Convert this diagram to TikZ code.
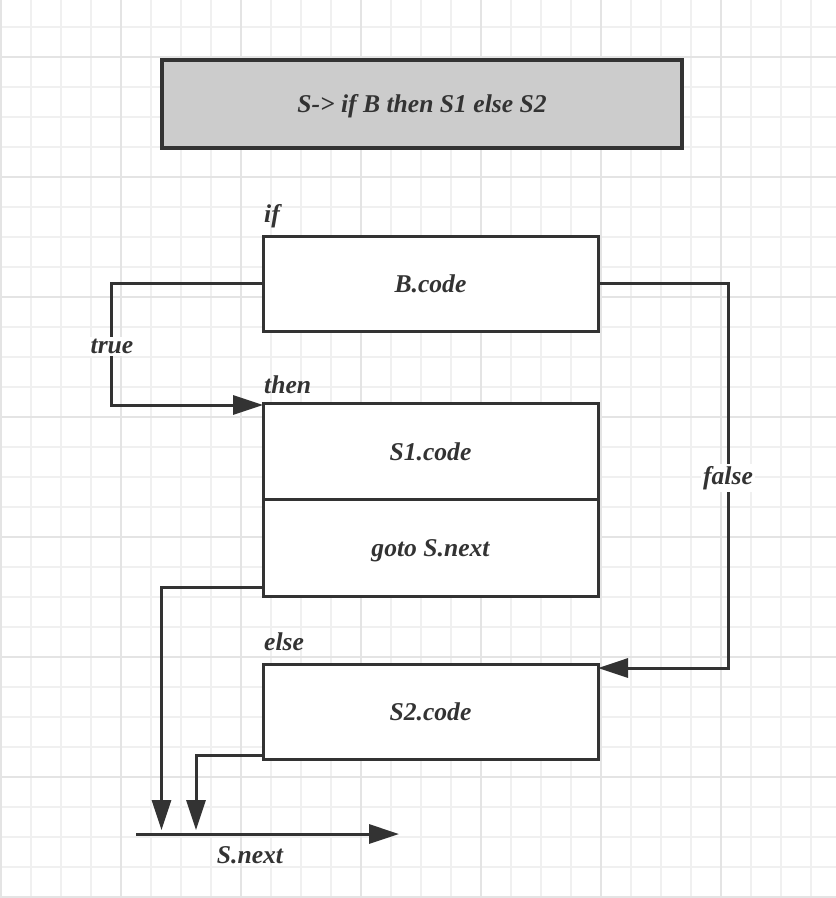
\documentclass[tikz,border=0pt]{standalone}
\usepackage{fontspec}
\setmainfont{Liberation Serif}
\usetikzlibrary{arrows.meta,calc}
\definecolor{ink}{HTML}{333333}
\definecolor{titlefill}{HTML}{CCCCCC}
\definecolor{gridminor}{HTML}{F0F0F0}
\definecolor{gridmajor}{HTML}{E4E4E4}
\newcommand\diagfont{\fontsize{25.6}{30}\selectfont\bfseries\itshape}
\begin{document}
\begin{tikzpicture}[x=1pt,y=-1pt,
  gminor/.style={draw=gridminor, line width=1.6pt},
  gmajor/.style={draw=gridmajor, line width=1.6pt},
  box/.style={draw=ink, line width=3pt, fill=white, minimum width=335pt,
    inner sep=0pt, outer sep=0pt, text height=17pt, text depth=0pt,
    font=\diagfont, text=ink},
  titlebox/.style={box, fill=titlefill, line width=3.6pt, minimum width=520pt, minimum height=88pt},
  conn/.style={draw=ink, line width=3pt, -{Triangle[length=30pt,width=19pt]}},
  lbl/.style={font=\diagfont, text=ink, inner sep=0pt},
  lblbg/.style={lbl, fill=white, inner sep=2pt}
]
\useasboundingbox (0,0) rectangle (836,898);
\fill[white] (0,0) rectangle (836,898);
% grid
\foreach \x in {1,31,...,811} \draw[gminor] (\x,0) -- (\x,898);
\foreach \y in {27,57,...,897} \draw[gminor] (0,\y) -- (836,\y);
\foreach \x in {1,121,...,721} \draw[gmajor] (\x,0) -- (\x,898);
\foreach \y in {57,177,...,897} \draw[gmajor] (0,\y) -- (836,\y);

% title
\node[titlebox] (title) at (422,104) {S-> if B then S1 else S2};

% boxes
\node[box, minimum height=95pt] (bcode) at (430.5,283.5) {B.code};
\node[box, minimum height=96pt] (s1) at (430.5,451.5) {S1.code};
\node[box, minimum height=96.5pt] (goto) at (430.5,547.75) {goto S.next};
\node[box, minimum height=95pt] (s2) at (430.5,711.5) {S2.code};

% labels above boxes
\node[lbl, anchor=base west] (iflbl) at (264,222.5) {if};
\node[lbl, anchor=base west] (thenlbl) at (264,393.3) {then};
\node[lbl, anchor=base west] (elselbl) at (264,650.7) {else};

% helper coordinates
\coordinate (tx) at (111.5,405);
\coordinate (fx) at (728,668);
\coordinate (ge) at (161.5,830);
\coordinate (se) at (196,830);
\coordinate (na) at (136,834);
\coordinate (nb) at (399,834);

% connectors
\draw[conn] (bcode.west) -| (tx) -- ($(s1.north west)+(0,1.5)$);
\draw[conn] (bcode.east) -| (fx) -- ($(s2.north east)+(0,4)$);
\draw[conn] ($(goto.south west)+(0,-8.5)$) -| (ge);
\draw[conn] ($(s2.south west)+(0,-3.5)$) -| (se);
\draw[conn] (na) -- (nb);

% edge labels
\node[lblbg, anchor=base] (truelbl) at (112,353.3) {true};
\node[lblbg, anchor=base] (falselbl) at (728,484.3) {false};
\node[lbl, anchor=base west] (nextlbl) at (216.7,863.3) {S.next};
\end{tikzpicture}
\end{document}
